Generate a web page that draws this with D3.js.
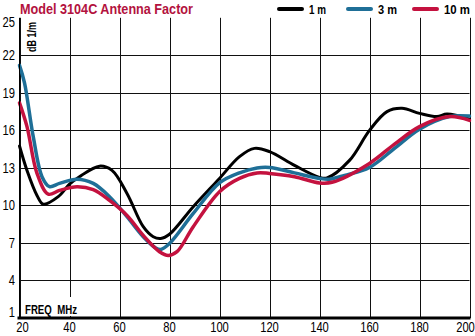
<!DOCTYPE html>
<html><head><meta charset="utf-8">
<script src="https://cdn.jsdelivr.net/npm/d3@7"></script>
<style>
html,body{margin:0;padding:0;background:#fff;}
svg{display:block;font-family:"Liberation Sans Narrow","Arial Narrow","Liberation Sans",sans-serif;}
</style></head>
<body>
<svg id="chart" width="475" height="336"></svg>
<script>
const title = "Model 3104C Antenna Factor";
const xTicks = [20,40,60,80,100,120,140,160,180,200];
const yTicks = [1,4,7,10,13,16,19,22,25];
const seriesNames = ["1 m","3 m","10 m"];
const seriesColors = ["#000000","#1f6f97","#c4123f"];

const freq1m = [20,23,27,29.5,35.5,40,44,52,57,63,69.5,73.5,76.5,80,89.5,100,108,114,120,130,140,143,152,160,167,173,180,187,191,200];
const af1m   = [14.75,12.8,10.8,10.1,10.7,11.7,12.3,13.14,12.8,10.96,8.3,7.5,7.36,7.7,9.9,12.16,13.9,14.56,14.3,13.2,12.24,12.2,13.6,16.0,17.5,17.76,17.36,17.1,17.3,16.9];

const freq3m = [20,22,25.5,29,32,36,43,49.5,56,63,69.5,74.5,76.5,80,89.5,100,108,115,120,130,140,144,150,160,170,180,192,200];
const af3m   = [21.2,19.8,15.5,12.3,11.5,11.76,12.1,11.76,10.7,9.1,7.5,6.6,6.48,6.96,9.36,11.8,12.6,13.0,13.04,12.6,12.16,12.1,12.4,13.04,14.56,16.1,17.1,17.14];

const freq10m = [20,23,27,31.5,36,43,49.5,56,63,69.5,76,79.5,83,89.5,100,108,115,120,130,140,145,160,170,180,192,200];
const af10m   = [18.2,16.3,12.56,10.9,11.2,11.5,11.26,10.4,9.2,7.6,6.3,6.0,6.3,8.3,11.1,12.16,12.6,12.56,12.3,11.8,11.85,13.36,14.9,16.3,17.1,16.8];

const svg = d3.select("#chart");
const L = 19.5, R = 469.5, T = 17.8, B = 318;
const SX = 0.8; // condensed look
const x = d3.scaleLinear().domain([20,200]).range([L,R]);
const y = d3.scaleLinear().domain([1,25]).range([B,T]);

// grid
const g = svg.append("g");
g.selectAll("line.h").data(yTicks.filter(v=>v>1 && v<25)).join("line")
  .attr("x1",L).attr("x2",R).attr("y1",d=>Math.round(y(d))+0.5).attr("y2",d=>Math.round(y(d))+0.5)
  .attr("stroke","#111").attr("stroke-width",1);
g.selectAll("line.v").data(xTicks).join("line")
  .attr("x1",d=>Math.round(x(d))+0.5).attr("x2",d=>Math.round(x(d))+0.5)
  .attr("y1",T).attr("y2",B).attr("stroke","#111").attr("stroke-width",1);

// white box behind FREQ label
svg.append("rect").attr("x",L+1.5).attr("y",297).attr("width",58).attr("height",19).attr("fill","#fff");

function ctext(sel, tx, ty){
  return sel.attr("transform", (d,i)=>`translate(${typeof tx==="function"?tx(d,i):tx},${typeof ty==="function"?ty(d,i):ty}) scale(${SX},1)`);
}

// axis labels
ctext(svg.append("g").selectAll("text").data(yTicks).join("text"),
  15, d=> d===25 ? y(d)+9.5 : d===1 ? y(d)-1 : y(d)+5)
  .attr("text-anchor","end").attr("font-size",14).attr("fill","#000").text(d=>d);
ctext(svg.append("g").selectAll("text").data(xTicks).join("text"),
  d=> d===20 ? x(d)+3 : d===200 ? x(d)-4 : x(d), 332)
  .attr("text-anchor","middle").attr("font-size",14).attr("fill","#000").text(d=>d);

// curves
const line = d3.line().x(d=>x(d[0])).y(d=>y(d[1])).curve(d3.curveCatmullRom.alpha(0.5));
const data = [
  d3.zip(freq1m, af1m),
  d3.zip(freq3m, af3m),
  d3.zip(freq10m, af10m)
];
const widths = [3,3.5,3.5];
svg.append("g").selectAll("path").data(data).join("path")
  .attr("d",line).attr("fill","none")
  .attr("stroke",(d,i)=>seriesColors[i]).attr("stroke-width",(d,i)=>widths[i])
  .attr("stroke-linejoin","round").attr("stroke-linecap","round");

// axes lines
svg.append("line").attr("x1",L).attr("x2",L).attr("y1",T).attr("y2",B).attr("stroke","#000").attr("stroke-width",1);
svg.append("line").attr("x1",L-2).attr("x2",R+1).attr("y1",B).attr("y2",B).attr("stroke","#000").attr("stroke-width",3);

// texts
svg.append("text").attr("x",20).attr("y",14).attr("font-size",15.5).attr("font-weight","bold")
  .attr("textLength",173).attr("lengthAdjust","spacingAndGlyphs")
  .attr("fill","#b3123e").text(title);
svg.append("text").attr("transform","translate(35.5,52) rotate(-90)")
  .attr("font-size",12).attr("font-weight","bold").attr("fill","#000")
  .attr("textLength",30).attr("lengthAdjust","spacingAndGlyphs").text("dB 1/m");
svg.append("text").attr("x",25).attr("y",313.5).attr("font-size",13).attr("font-weight","bold")
  .attr("textLength",52).attr("lengthAdjust","spacingAndGlyphs")
  .attr("fill","#000").text("FREQ  MHz").style("white-space","pre");

// legend
const legX = [279,348,414];
const legW = [17,19,26];
const lg = svg.append("g").selectAll("g").data(seriesNames).join("g");
lg.append("line").attr("x1",(d,i)=>legX[i]).attr("x2",(d,i)=>legX[i]+23)
  .attr("y1",9).attr("y2",9).attr("stroke",(d,i)=>seriesColors[i]).attr("stroke-width",4).attr("stroke-linecap","round");
lg.append("text").attr("x",(d,i)=>legX[i]+30).attr("y",13.5).attr("font-size",12.5).attr("font-weight","bold")
  .attr("textLength",(d,i)=>legW[i]).attr("lengthAdjust","spacingAndGlyphs")
  .attr("fill","#000").text(d=>d);
</script>
</body></html>
